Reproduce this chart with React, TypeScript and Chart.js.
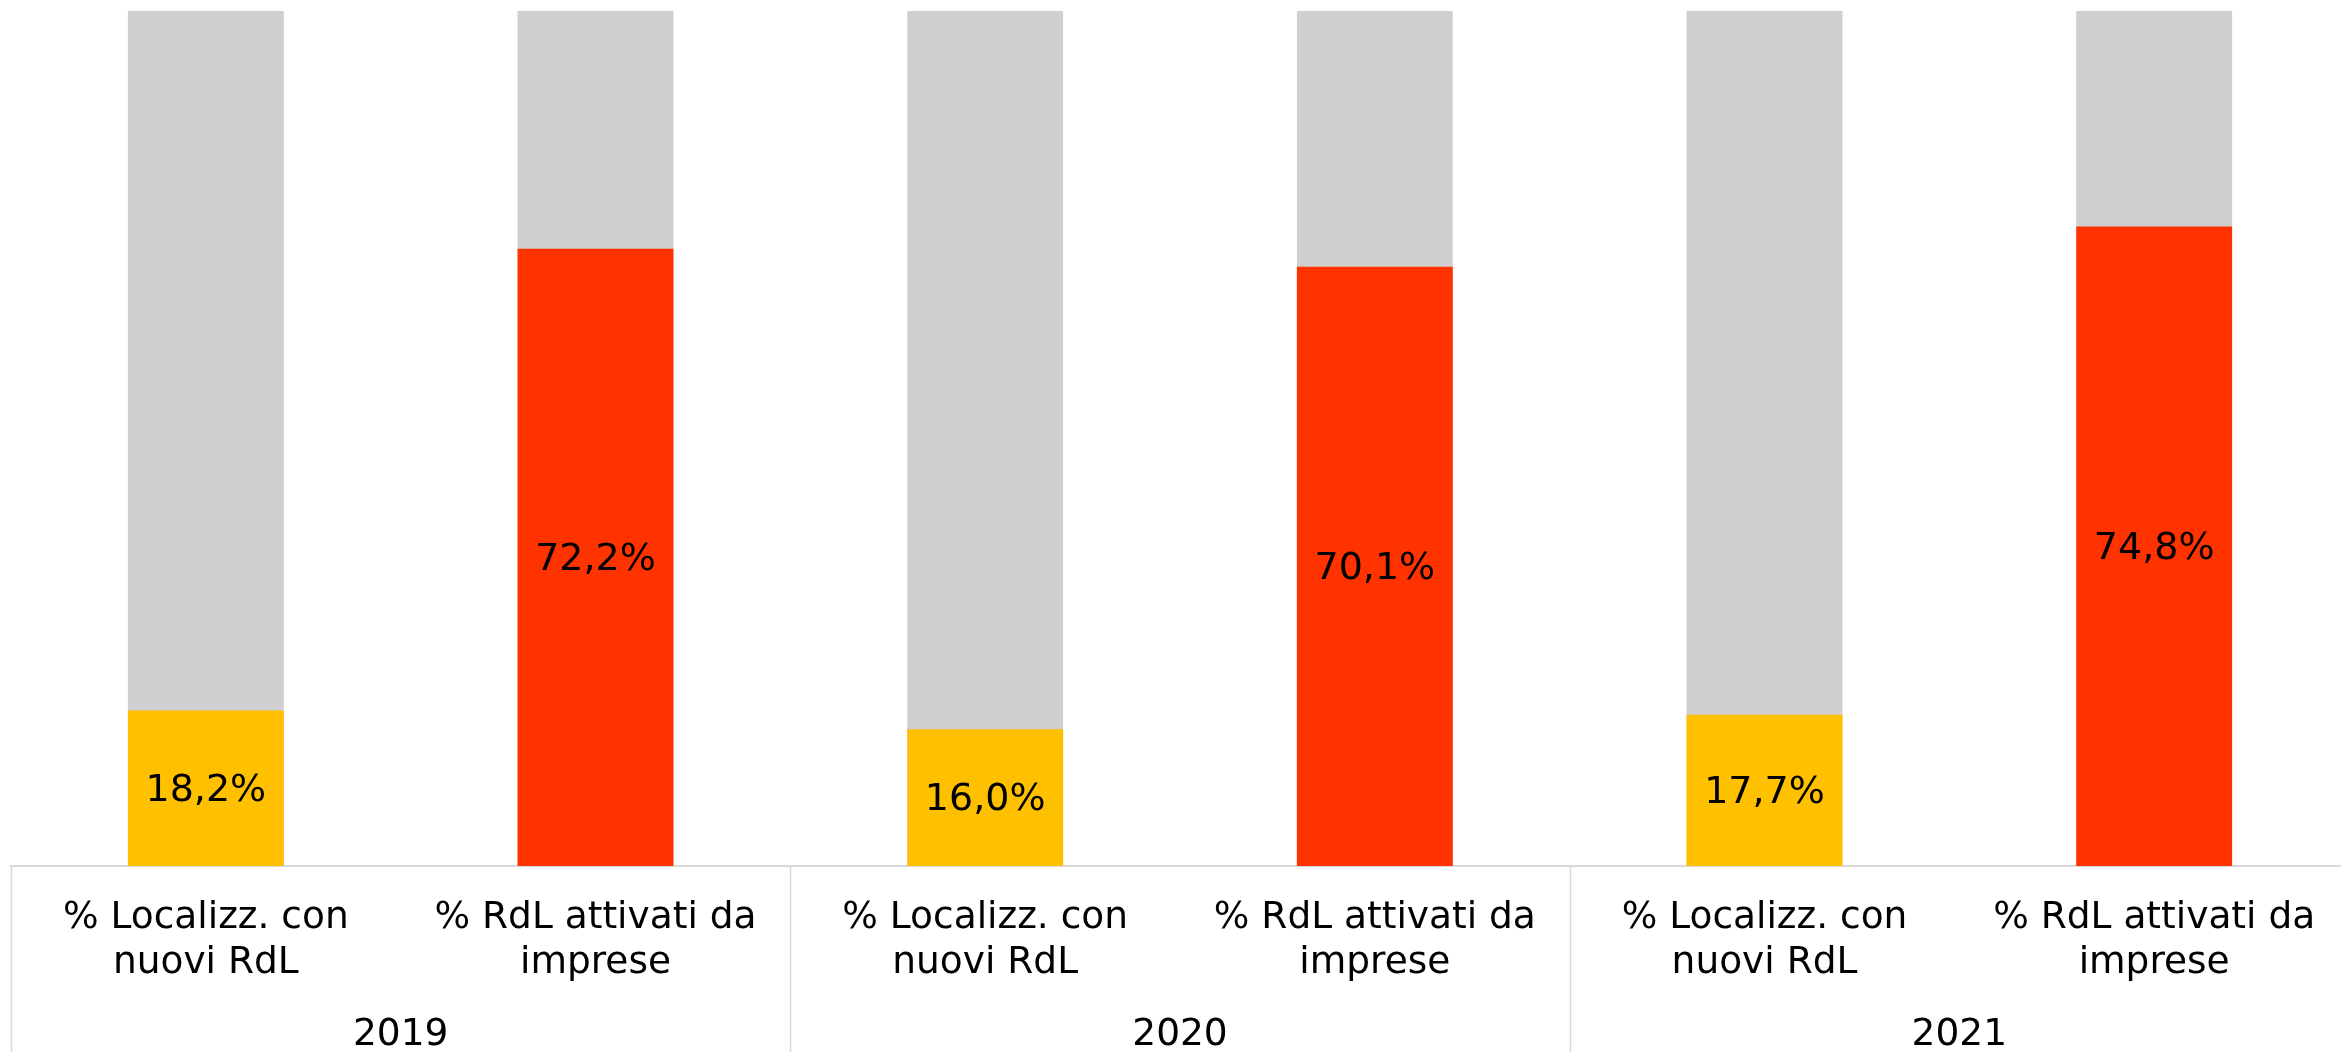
import React, { useEffect, useRef } from "react";
import { Chart, registerables } from "chart.js";

Chart.register(...registerables);

const years = ["2019", "2020", "2021"];
const categoryLabels: string[][] = [
  ["% Localizz. con", "nuovi RdL"],
  ["% RdL attivati da", "imprese"],
];
const localizzValues = [18.2, 16.0, 17.7];
const rdlValues = [72.2, 70.1, 74.8];
const fullScale = [100, 100, 100, 100, 100, 100];

const YELLOW = "#FFC000";
const RED = "#FF3300";
const GREY = "#D0CECF";
const LINE = "#D9D9D9";
const FONT = "'DejaVu Sans', Verdana, sans-serif";
const CANVAS_W = 2349;
const CANVAS_H = 1052;

export default function App() {
  const ref = useRef<HTMLCanvasElement | null>(null);

  useEffect(() => {
    if (!ref.current) return;
    const labels: string[][] = [];
    const yellowData: (number | null)[] = [];
    const redData: (number | null)[] = [];
    years.forEach((_, i) => {
      labels.push(categoryLabels[0]);
      labels.push(categoryLabels[1]);
      yellowData.push(localizzValues[i], null);
      redData.push(null, rdlValues[i]);
    });

    const overlay = {
      id: "overlay",
      afterDatasetsDraw(chart: any) {
        const ctx = chart.ctx;
        const xs = chart.scales.x;
        const area = chart.chartArea;
        ctx.save();
        // data labels
        ctx.font = `38px ${FONT}`;
        ctx.fillStyle = "#000000";
        ctx.textAlign = "center";
        ctx.textBaseline = "middle";
        [0, 1].forEach((di) => {
          const meta = chart.getDatasetMeta(di);
          const data = chart.data.datasets[di].data;
          meta.data.forEach((bar: any, i: number) => {
            const v = data[i];
            if (v === null || v === undefined) return;
            const cy = (bar.y + bar.base) / 2 + 3;
            ctx.fillText(v.toFixed(1).replace(".", ",") + "%", bar.x, cy);
          });
        });
        // group separators
        const bottom = chart.height;
        ctx.strokeStyle = LINE;
        ctx.lineWidth = 1.5;
        const seps = [area.left];
        for (let g = 1; g < years.length; g++) {
          seps.push((xs.getPixelForValue(2 * g - 1) + xs.getPixelForValue(2 * g)) / 2);
        }
        seps.forEach((sx) => {
          ctx.beginPath();
          ctx.moveTo(Math.round(sx) + 0.5, area.bottom);
          ctx.lineTo(Math.round(sx) + 0.5, bottom);
          ctx.stroke();
        });
        // year labels
        ctx.fillStyle = "#000000";
        ctx.font = `37.5px ${FONT}`;
        years.forEach((y, g) => {
          const cx = (xs.getPixelForValue(2 * g) + xs.getPixelForValue(2 * g + 1)) / 2;
          ctx.fillText(y, cx, area.bottom + 169);
        });
        ctx.restore();
      },
    };

    const chart = new Chart(ref.current, {
      type: "bar",
      data: {
        labels,
        datasets: [
          {
            label: "% Localizz. con nuovi RdL",
            data: yellowData,
            backgroundColor: YELLOW,
            grouped: false,
            skipNull: true,
            order: 0,
          } as any,
          {
            label: "% RdL attivati da imprese",
            data: redData,
            backgroundColor: RED,
            grouped: false,
            skipNull: true,
            order: 1,
          } as any,
          {
            label: "Totale",
            data: fullScale,
            backgroundColor: GREY,
            grouped: false,
            order: 2,
          } as any,
        ],
      },
      options: {
        animation: false,
        responsive: false,
        devicePixelRatio: 1,
        layout: { padding: { left: 11, top: 11, right: 0, bottom: 0 } },
        datasets: {
          bar: { categoryPercentage: 1, barPercentage: 0.4 },
        } as any,
        plugins: {
          legend: { display: false },
          tooltip: { enabled: false },
        },
        scales: {
          x: {
            grid: { display: false, drawTicks: false },
            border: { display: true, color: LINE, width: 2 },
            ticks: {
              autoSkip: false,
              maxRotation: 0,
              minRotation: 0,
              padding: 30,
              color: "#000000",
              font: { family: FONT, size: 37.5, lineHeight: 45 / 37.5 },
            },
            afterFit(scale: any) {
              scale.height = 186;
            },
          },
          y: {
            display: false,
            min: 0,
            max: 100,
          },
        },
      },
      plugins: [overlay],
    });
    return () => chart.destroy();
  }, []);

  return (
    <div
      style={{
        position: "fixed",
        left: 0,
        top: 0,
        width: 2341,
        height: CANVAS_H,
        overflow: "hidden",
        background: "#fff",
      }}
    >
      <canvas
        ref={ref}
        width={CANVAS_W}
        height={CANVAS_H}
        style={{ width: CANVAS_W, height: CANVAS_H, display: "block" }}
      />
    </div>
  );
}
